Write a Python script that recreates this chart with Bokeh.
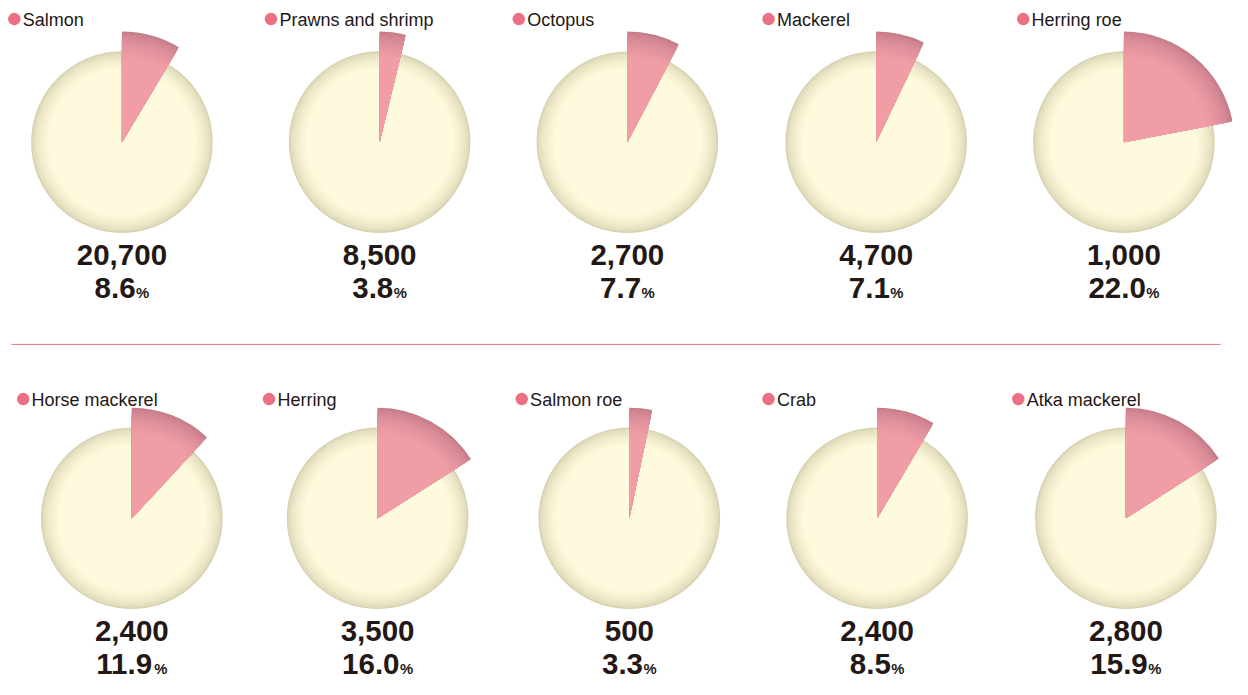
from bokeh.plotting import figure
from bokeh.models import Range1d
from bokeh.core.properties import value
from bokeh.embed import file_html
from bokeh.resources import INLINE
import math

# ---- data ----
categories = ["Salmon", "Prawns and shrimp", "Octopus", "Mackerel", "Herring roe",
              "Horse mackerel", "Herring", "Salmon roe", "Crab", "Atka mackerel"]
volumes = [20700, 8500, 2700, 4700, 1000, 2400, 3500, 500, 2400, 2800]
shares = [8.6, 3.8, 7.7, 7.1, 22.0, 11.9, 16.0, 3.3, 8.5, 15.9]

# ---- layout (reference image coordinates, 1248 x 695) ----
W, H = 1248, 695
FW, FH = 1232, 679
SX = FW / W
SY = FH / H
centers_x = [123, 384, 635, 887, 1138, 133, 382, 637, 888, 1140]
centers_y_page = [145] * 5 + [530] * 5
legend_dot_x = [14, 274, 525, 778, 1036, 23, 272, 528, 778, 1031]
legend_y_page = [19] * 5 + [408] * 5
R_DISK = 92
R_WEDGE = 112

TEXT = "#231815"
PINK_DOT = "#EC6F83"

p = figure(width=FW, height=FH, x_range=Range1d(0, W), y_range=Range1d(0, H),
           output_backend="svg", toolbar_location=None, min_border=0)
p.axis.visible = False
p.grid.visible = False
p.outline_line_color = None
p.background_fill_color = "white"
p.border_fill_color = "white"

cy = [H - y for y in centers_y_page]


def lerp(c1, c2, t):
    a = [int(c1[i:i + 2], 16) for i in (1, 3, 5)]
    b = [int(c2[i:i + 2], 16) for i in (1, 3, 5)]
    return "#%02x%02x%02x" % tuple(round(a[k] + (b[k] - a[k]) * t) for k in range(3))


# cream disks with radial shading (darker rim)
DISK_IN, DISK_OUT = "#FEFADD", "#D5D1AF"
N = 16
band = 18.0
p.circle(x=centers_x, y=cy, radius=R_DISK, fill_color=DISK_OUT, line_color=None)
for i in range(1, N + 1):
    r = R_DISK - band * i / N
    t = (i / N) ** 0.55
    p.circle(x=centers_x, y=cy, radius=r, fill_color=lerp(DISK_OUT, DISK_IN, t), line_color=None)

# pink exploded wedges with shaded outer rim
WEDGE_IN, WEDGE_OUT = "#F09DA6", "#C47C89"
start = [math.pi / 2 - s / 100 * 2 * math.pi for s in shares]
end = [math.pi / 2] * len(shares)
wband = 26.0
M = 16
p.wedge(x=centers_x, y=cy, radius=R_WEDGE, start_angle=start, end_angle=end,
        fill_color=WEDGE_OUT, line_color=None)
for i in range(1, M + 1):
    r = R_WEDGE - wband * i / M
    t = (i / M) ** 0.6
    p.wedge(x=centers_x, y=cy, radius=r, start_angle=start, end_angle=end,
            fill_color=lerp(WEDGE_OUT, WEDGE_IN, t), line_color=None)

# legend dots and labels
ly = [H - y for y in legend_y_page]
p.scatter(x=legend_dot_x, y=ly, size=12.5, marker="circle", fill_color=PINK_DOT, line_color=None)
p.text(x=[x + 8.5 for x in legend_dot_x], y=[y - 1 for y in ly], text=categories,
       text_font=value("Liberation Sans"), text_font_size="18px",
       text_color=TEXT, text_align="left", text_baseline="middle")

# volumes
BIG, SMALL, GAP = 29.5, 14.8, 0.5
vol_txt = [f"{v:,}" for v in volumes]
p.text(x=centers_x, y=[c - 115 for c in cy], text=vol_txt,
       text_font=value("Liberation Sans"), text_font_style="bold", text_font_size=f"{BIG}px",
       text_color=TEXT, text_align="center", text_baseline="middle")

# shares with small % sign
CW = {"0": .556, "1": .556, "2": .556, "3": .556, "4": .556, "5": .556, "6": .556,
      "7": .556, "8": .556, "9": .556, ".": .278}
share_txt = [f"{s:.1f}" for s in shares]
lefts, pct_x = [], []
for cx, t in zip(centers_x, share_txt):
    w = sum(CW[c] for c in t) * BIG / SX
    pw = 0.889 * SMALL / SX
    total = w + GAP + pw
    left = cx - total / 2
    lefts.append(left)
    pct_x.append(left + w + GAP)
py = [c - 149 for c in cy]
p.text(x=lefts, y=py, text=share_txt,
       text_font=value("Liberation Sans"), text_font_style="bold", text_font_size=f"{BIG}px",
       text_color=TEXT, text_align="left", text_baseline="middle")
p.text(x=pct_x, y=[y - 5.5 / SY for y in py], text=["%"] * len(shares),
       text_font=value("Liberation Sans"), text_font_style="bold", text_font_size=f"{SMALL}px",
       text_color=TEXT, text_align="left", text_baseline="middle")

# divider line
p.line(x=[11, 1236], y=[H - 352, H - 352], line_color="#EE7485", line_width=1)

open("out.html", "w").write(file_html(p, INLINE))
